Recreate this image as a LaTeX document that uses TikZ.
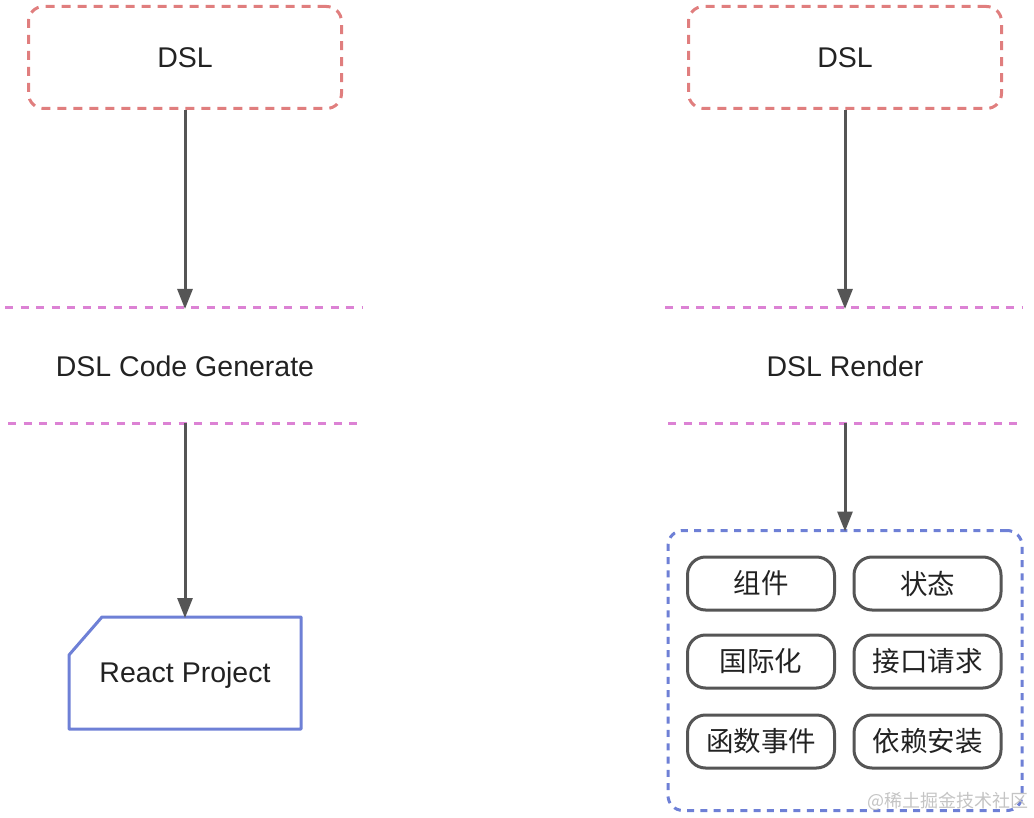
\documentclass[tikz,border=0pt]{standalone}
\usepackage{fontspec}
\setmainfont{Liberation Sans}
\newfontfamily\cjk{Noto Sans CJK SC}
\usetikzlibrary{arrows.meta}
\definecolor{dslred}{HTML}{E07E7E}
\definecolor{seppink}{HTML}{DC82D4}
\definecolor{projblue}{HTML}{6E80D6}
\definecolor{arrgray}{HTML}{555555}
\definecolor{txtgray}{HTML}{222222}
\definecolor{markgray}{HTML}{C4C4C4}

\begin{document}
\begin{tikzpicture}[x=1pt,y=-1pt,
	lbl/.style={text=txtgray, font=\fontsize{28.5}{33}\selectfont},
	dslbox/.style={lbl, draw=dslred, line width=3pt, dash pattern=on 9pt off 7pt, rounded corners=15pt, minimum width=313pt, minimum height=102pt},
	sepline/.style={draw=seppink, line width=3pt, dash pattern=on 8pt off 7.5pt},
	arr/.style={draw=arrgray, line width=3pt, -{Triangle[length=20pt,width=15pt]}, shorten >=-1pt},
	group/.style={draw=projblue, line width=3pt, dash pattern=on 7pt off 6.3pt, rounded corners=15pt, minimum width=354pt, minimum height=280pt},
	pill/.style={draw=arrgray, line width=3pt, rounded corners=18pt, minimum width=147pt, minimum height=53pt, text=txtgray, font=\cjk\fontsize{27.5}{32}\selectfont}
]
	\useasboundingbox (0,0) rectangle (1034,818);

	% left: code generate
	\node[dslbox] (dslL) at (185,57.5) {DSL};
	\coordinate (genT) at (185,308);
	\coordinate (genB) at (185,423);
	\draw[sepline] (5,308) -- (362,308);
	\draw[sepline] (8,423) -- (364,423);
	\node[lbl] (gen) at (185,366) {DSL Code Generate};
	\node[lbl, minimum width=232pt, minimum height=112pt, outer sep=0pt, text depth=2pt] (react) at (185,673) {React Project};
	\draw[projblue, line width=3pt, line join=round] ([yshift=-38pt]react.north west) -- ([xshift=33pt]react.north west) -- (react.north east) -- (react.south east) -- (react.south west) -- cycle;

	\draw[arr] (dslL) -- (genT);
	\draw[arr] (genB) -- (react);

	% right: render
	\node[dslbox] (dslR) at (845,57.5) {DSL};
	\coordinate (renT) at (845,308);
	\coordinate (renB) at (845,423);
	\draw[sepline] (665,308) -- (1022,308);
	\draw[sepline] (668,423) -- (1024,423);
	\node[lbl] (ren) at (845,366) {DSL Render};
	\node[group, outer sep=0pt] (rt) at (845,670.5) {};

	\node[pill] (comp) at (761,583.5) {组件};
	\node[pill] (state) at (927.5,583.5) {状态};
	\node[pill] (i18n) at (761,661.5) {国际化};
	\node[pill] (api) at (927.5,661.5) {接口请求};
	\node[pill] (func) at (761,741.5) {函数事件};
	\node[pill] (deps) at (927.5,741.5) {依赖安装};

	\draw[arr] (dslR) -- (renT);
	\draw[arr] (renB) -- (rt);

	\node[text=markgray, font=\cjk\fontsize{18}{20}\selectfont, anchor=east] (mark) at (1032,801) {@稀土掘金技术社区};
\end{tikzpicture}
\end{document}
